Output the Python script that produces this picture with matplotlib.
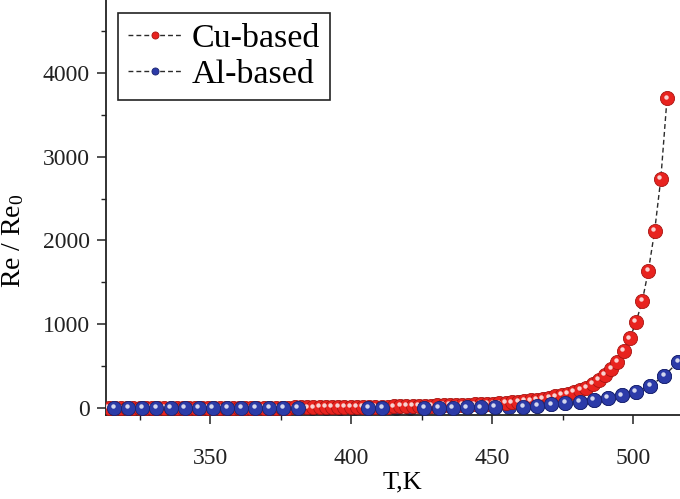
import matplotlib
matplotlib.use("Agg")
import matplotlib.pyplot as plt
from matplotlib.ticker import MultipleLocator
from matplotlib.transforms import offset_copy

plt.rcParams["font.family"] = ["Liberation Serif", "DejaVu Serif"]
plt.rcParams["mathtext.fontset"] = "custom"
plt.rcParams["mathtext.rm"] = "Liberation Serif"
plt.rcParams["mathtext.it"] = "Liberation Serif:italic"

# Cu-based: temperature (K) and Re/Re0
t_cu = [314.0, 316.2, 318.4, 320.6, 322.8, 325.0, 327.2, 329.4, 331.6, 333.8,
        336.0, 338.2, 340.4, 342.6, 344.8, 347.0, 349.2, 351.4, 353.6, 355.8,
        358.0, 360.2, 362.4, 364.6, 366.8, 369.0, 371.2, 373.4, 375.6, 377.8,
        380.0, 382.2, 384.4, 386.6, 388.8, 391.0, 393.2, 395.4, 397.6, 399.8,
        402.0, 404.2, 406.4, 408.6, 410.8, 413.0, 415.2, 417.4, 419.6, 421.8,
        424.0, 426.2, 428.4, 430.6, 432.8, 435.0, 437.2, 439.4, 441.6, 443.8,
        446.0, 448.2, 450.4, 452.6, 454.8, 457.0, 459.2, 461.4, 463.6, 465.8,
        468.0, 470.2, 472.4, 474.6, 476.8, 479.0, 481.2, 483.4, 485.6, 487.8,
        490.0, 492.2, 494.4, 496.6, 498.8, 501.0, 503.2, 505.4, 507.6, 509.8,
        512.0]
re_cu = [1, 1, 1, 1, 1, 1, 2, 2, 2, 2,
         2, 2, 2, 2, 2, 3, 3, 3, 3, 3,
         3, 3, 4, 4, 4, 4, 5, 5, 5, 5,
         6, 6, 7, 7, 8, 8, 9, 10, 10, 11,
         12, 13, 14, 15, 16, 17, 19, 20, 22, 23,
         25, 27, 28, 30, 32, 34, 36, 38, 40, 42,
         44, 47, 50, 55, 60, 67, 75, 82, 91, 101,
         112, 124, 137, 152, 171, 192, 212, 243, 284, 332,
         395, 463, 554, 680, 830, 1025, 1275, 1641, 2111, 2739,
         3697]

# Al-based: temperature (K) and Re/Re0
t_al = [316, 321, 326, 331, 336, 341, 346, 351, 356, 361,
        366, 371, 376, 381, 386, 391, 396, 401, 406, 411,
        416, 421, 426, 431, 436, 441, 446, 451, 456, 461,
        466, 471, 476, 481, 486, 491, 496, 501, 506, 511,
        516]
re_al = [1, 1, 1, 1, 1, 1, 1, 1, 2, 2,
         2, 2, 2, 2, 2, 3, 3, 3, 3, 3,
         4, 4, 4, 5, 5, 6, 7, 8, 10, 14,
         26, 42, 58, 72, 96, 120, 151, 193, 262, 385,
         551]
# Al points that sit behind the Cu markers
al_behind = [386, 391, 396, 401, 416, 421, 456]

x_ticks = [350, 400, 450, 500]
y_ticks = [0, 1000, 2000, 3000, 4000]

red = "#e8231f"
red_edge = "#a81512"
blue = "#2c3ba8"
blue_edge = "#1b2470"
line_col = "#2b2b2b"

fig = plt.figure(figsize=(6.8, 4.99), dpi=100)
ax = fig.add_axes([106 / 680, 84 / 499, 574 / 680, 415 / 499])
ax.set_xlim(313.1, 516.6)
ax.set_ylim(-84, 4872)

ms = 10.2
hl = offset_copy(ax.transData, fig=fig, x=-1.5, y=1.8, units="dots")


def balls(x, y, face, edge, z, label=None, line=True):
    h, = ax.plot(x, y, linestyle=(0, (3.5, 2.2)) if line else "none",
                 color=line_col, lw=1.0, marker="o", ms=ms,
                 mfc=face, mec=edge, mew=0.6, zorder=z, label=label)
    ax.plot(x, y, linestyle="none", marker="o", ms=3.2, mfc="white",
            mec="none", alpha=0.8, zorder=z + 0.05, transform=hl)
    return h


h_al = balls(t_al, re_al, blue, blue_edge, 2, label="Al-based")
h_cu = balls(t_cu, re_cu, red, red_edge, 3, label="Cu-based")
front = [i for i, t in enumerate(t_al) if t not in al_behind]
balls([t_al[i] for i in front], [re_al[i] for i in front],
      blue, blue_edge, 4, line=False)

for side in ("top", "right"):
    ax.spines[side].set_visible(False)
for side in ("left", "bottom"):
    ax.spines[side].set_linewidth(1.3)
    ax.spines[side].set_color("#222222")

ax.set_xticks(x_ticks)
ax.set_yticks(y_ticks)
ax.xaxis.set_minor_locator(MultipleLocator(25))
ax.yaxis.set_minor_locator(MultipleLocator(500))
ax.tick_params(which="major", direction="out", length=6.5, width=1.1,
               labelsize=17, pad=5, colors="#222222")
ax.tick_params(which="minor", direction="out", length=3.5, width=1.0,
               colors="#222222")
ax.tick_params(axis="x", which="major", pad=17)

ax.set_xlabel("T,K", fontsize=19)
ax.set_ylabel(r"Re / Re$_\mathrm{0}$", fontsize=20)
ax.xaxis.set_label_coords(0.516, -0.137)
ax.yaxis.set_label_coords(-0.14, 0.42)

leg = ax.legend(handles=[h_cu, h_al], loc="upper left",
                bbox_to_anchor=(0.0209, 0.9687), borderaxespad=0,
                fontsize=24.5, markerscale=0.5, handlelength=1.55,
                handletextpad=0.3, labelspacing=0.15, borderpad=0.3,
                fancybox=False, framealpha=1, edgecolor="#222222")
leg.get_frame().set_linewidth(1.2)

fig.savefig("out.png", dpi=100)
